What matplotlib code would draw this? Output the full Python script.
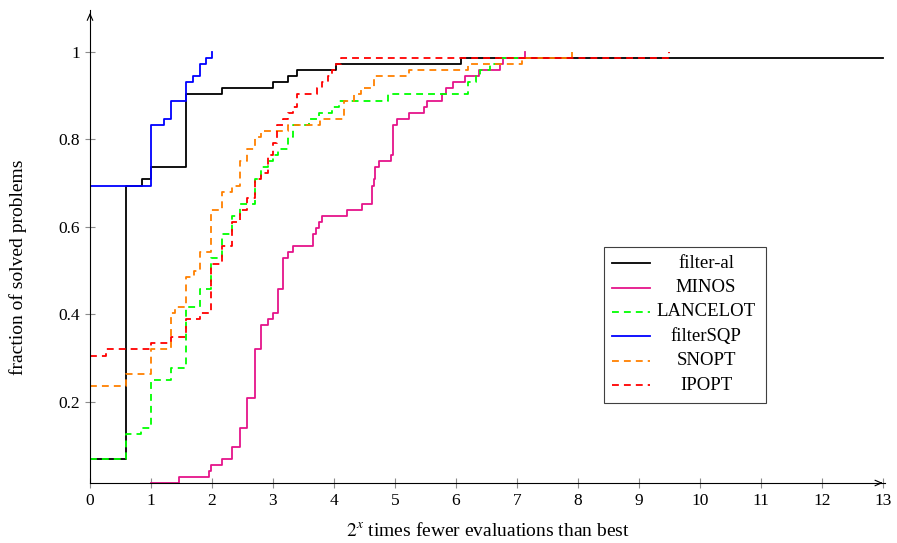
import numpy as np
import matplotlib.pyplot as plt
from matplotlib.lines import Line2D

plt.rcParams['font.family'] = ['Liberation Serif', 'DejaVu Serif']
plt.rcParams['mathtext.fontset'] = 'stix'

nprob = 72

# performance profiles: (x where the step starts, number of solved problems)
fal_x = [0, 0.59, 0.85, 1.0, 1.58, 2.17, 3.0, 3.25, 3.40, 4.04, 6.09, 13]
fal_n = [5, 50, 51, 53, 65, 66, 67, 68, 69, 70, 71, 71]

minos_x = [1.0, 1.46, 1.95, 1.99, 2.17, 2.32, 2.46, 2.58, 2.70, 2.80, 2.91, 3.0,
           3.09, 3.17, 3.25, 3.32, 3.65, 3.70, 3.76, 3.81, 4.21, 4.46, 4.62, 4.65,
           4.67, 4.74, 4.93, 4.96, 4.97, 5.03, 5.23, 5.48, 5.52, 5.77, 5.83, 5.95,
           6.15, 6.37, 6.72, 6.77, 7.13]
minos_n = [1, 2, 3, 4, 5, 7, 10, 15, 23, 27, 28, 29, 33, 38, 39, 40, 42, 43, 44, 45,
           46, 47, 50, 51, 53, 54, 55, 59, 60, 61, 62, 63, 64, 65, 66, 67, 68, 69,
           70, 71, 72]

lan_x = [0, 0.585, 0.836, 1.0, 1.32, 1.58, 1.80, 1.99, 2.17, 2.32, 2.46, 2.70, 2.81,
         2.91, 3.0, 3.09, 3.25, 3.33, 3.59, 3.75, 3.96, 4.08, 4.89, 6.19, 6.33,
         6.40, 6.55, 6.72, 7.1]
lan_n = [5, 9, 10, 18, 20, 30, 33, 38, 42, 45, 47, 51, 53, 54, 55, 56, 58, 60, 61,
         62, 63, 64, 65, 67, 68, 69, 70, 71, 71]

sqp_x = [0, 1.0, 1.21, 1.33, 1.58, 1.69, 1.80, 1.90, 2.0]
sqp_n = [50, 60, 61, 64, 67, 68, 70, 71, 72]

snopt_x = [0, 0.585, 1.0, 1.32, 1.40, 1.58, 1.70, 1.80, 1.99, 2.17, 2.32, 2.46, 2.58,
           2.70, 2.80, 3.25, 3.77, 4.16, 4.32, 4.45, 4.65, 5.23, 6.2, 7.08, 7.91]
snopt_n = [17, 19, 23, 29, 30, 35, 36, 39, 46, 49, 50, 54, 56, 58, 59, 60, 61, 64,
           65, 66, 68, 69, 70, 71, 72]

ipopt_x = [0, 0.27, 1.0, 1.33, 1.58, 1.80, 1.99, 2.17, 2.32, 2.46, 2.58, 2.70, 2.80,
           2.91, 3.0, 3.07, 3.17, 3.25, 3.33, 3.40, 3.72, 3.81, 3.91, 3.96, 4.04,
           4.12, 9.49]
ipopt_n = [22, 23, 24, 25, 28, 29, 37, 40, 44, 46, 48, 51, 52, 55, 57, 60, 61, 62,
           63, 65, 66, 67, 68, 69, 70, 71, 72]

labels = ['filter-al', 'MINOS', 'LANCELOT', 'filterSQP', 'SNOPT', 'IPOPT']
xs = [fal_x, minos_x, lan_x, sqp_x, snopt_x, ipopt_x]
ns = [fal_n, minos_n, lan_n, sqp_n, snopt_n, ipopt_n]
colors = ['black', '#E5148A', '#00FF00', '#0000FF', '#FF8000', '#FF0000']
dashed = [False, False, True, False, True, True]

W, H = 897, 543
fig = plt.figure(figsize=(W/100, H/100), dpi=100)
ax = fig.add_axes([90/W, (H-483.0)/H, 795.4/W, 473/H])

lw = 1.3
for lab, x, n, c, d in zip(labels, xs, ns, colors, dashed):
    y = np.array(n)/nprob
    if d:
        ax.plot(x, y, drawstyle='steps-post', color=c, lw=lw, ls='--', dashes=(3.8, 2.8))
    else:
        ax.plot(x, y, drawstyle='steps-post', color=c, lw=lw)

ax.set_xlim(0, 13.04)
ax.set_ylim(1/nprob, 1.096)
ax.set_xticks(range(14))
ax.set_yticks([0.2, 0.4, 0.6, 0.8, 1.0])
ax.set_yticklabels(['0.2', '0.4', '0.6', '0.8', '1'])
ax.tick_params(direction='inout', length=6.5, width=0.8, color='0.55', labelsize=12.5, pad=4)

for s in ['top', 'right']:
    ax.spines[s].set_visible(False)
for s in ['left', 'bottom']:
    ax.spines[s].set_linewidth(0.8)

# axis arrows
arr = dict(arrowstyle='->,head_length=0.45,head_width=0.2', lw=0.8, color='black')
ax.annotate('', xy=(1.0, 0), xytext=(0.99, 0), xycoords='axes fraction', arrowprops=arr)
ax.annotate('', xy=(0, 1.0), xytext=(0, 0.98), xycoords='axes fraction', arrowprops=arr)

ax.set_xlabel('$2^x$ times fewer evaluations than best', fontsize=14, labelpad=9)
ax.set_ylabel('fraction of solved problems', fontsize=14)
ax.yaxis.set_label_coords(-0.079, 0.457)

# legend box drawn by hand so the labels can be centred like pgfplots
def fpx(px, py):
    return px/W, 1 - py/H

x0, y0 = fpx(604, 403)
fig.add_artist(plt.Rectangle((x0, y0), 162/W, 156/H, transform=fig.transFigure,
                             fill=False, lw=0.8, ec='0.25'))
for i, (lab, c, d) in enumerate(zip(labels, colors, dashed)):
    ry = 263.3 + i*24.35
    (lx0, ly), (lx1, _) = fpx(612, ry), fpx(650, ry)
    ln = Line2D([lx0, lx1], [ly, ly], transform=fig.transFigure, color=c, lw=lw)
    if d:
        ln.set_linestyle('--')
        ln.set_dashes((3.8, 2.8))
    fig.add_artist(ln)
    tx, ty = fpx(706, ry)
    fig.text(tx, ty, lab, ha='center', va='center', fontsize=13.5)

fig.savefig('out.png', dpi=100)
